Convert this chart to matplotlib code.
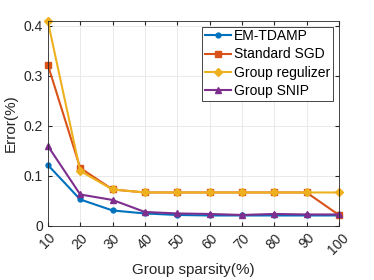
import numpy as np
import matplotlib.pyplot as plt

plt.rcParams['font.family'] = ['Liberation Sans', 'DejaVu Sans']

# Вхідні дані
sparsity = [10, 20, 30, 40, 50, 60, 70, 80, 90, 100]
em_tdamp = [0.122, 0.053, 0.031, 0.025, 0.022, 0.021, 0.021, 0.021, 0.021, 0.021]
standard_sgd = [0.322, 0.116, 0.073, 0.067, 0.067, 0.067, 0.067, 0.067, 0.067, 0.022]
group_reg = [0.409, 0.110, 0.073, 0.067, 0.067, 0.067, 0.067, 0.067, 0.067, 0.067]
group_snip = [0.160, 0.063, 0.052, 0.028, 0.025, 0.024, 0.022, 0.024, 0.023, 0.023]

fig = plt.figure(figsize=(3.74, 2.8), dpi=100)
ax = fig.add_axes([0.128, 0.193, 0.778, 0.732])

ax.plot(sparsity, em_tdamp, color=(0, 0.447, 0.741), marker='.', markersize=7, lw=1.5, label='EM-TDAMP', clip_on=False)
ax.plot(sparsity, standard_sgd, color=(0.85, 0.325, 0.098), marker='s', markersize=4, lw=1.5, label='Standard SGD', clip_on=False)
ax.plot(sparsity, group_reg, color=(0.929, 0.694, 0.125), marker='D', markersize=4.5, lw=1.5, label='Group regulizer', clip_on=False)
ax.plot(sparsity, group_snip, color=(0.494, 0.184, 0.556), marker='^', markersize=5, lw=1.5, label='Group SNIP', clip_on=False)

ax.set_xlim(10, 100)
ax.set_ylim(0, 0.41)
ax.set_xticks(sparsity)
ax.set_yticks([0, 0.1, 0.2, 0.3, 0.4])
ax.set_yticklabels(['0', '0.1', '0.2', '0.3', '0.4'])
ax.tick_params(axis='x', rotation=45, labelsize=10, direction='in', length=3, colors='#262626')
ax.tick_params(axis='y', labelsize=10, direction='in', length=3, colors='#262626')
ax.tick_params(top=True, right=True)
ax.grid(True, color='#e6e6e6', lw=0.6)
ax.set_axisbelow(True)
for s in ax.spines.values():
    s.set_color('#262626')
    s.set_linewidth(0.6)

ax.set_xlabel('Group sparsity(%)', fontsize=11, color='#262626')
ax.set_ylabel('Error(%)', fontsize=11, color='#262626')

leg = ax.legend(loc='upper right', fontsize=10, fancybox=False, framealpha=1,
                edgecolor='#262626', handlelength=1.9, handletextpad=0.2,
                borderaxespad=0.4, labelspacing=0.3, borderpad=0.2)
leg.get_frame().set_linewidth(0.6)

fig.savefig('out.png', dpi=100)
